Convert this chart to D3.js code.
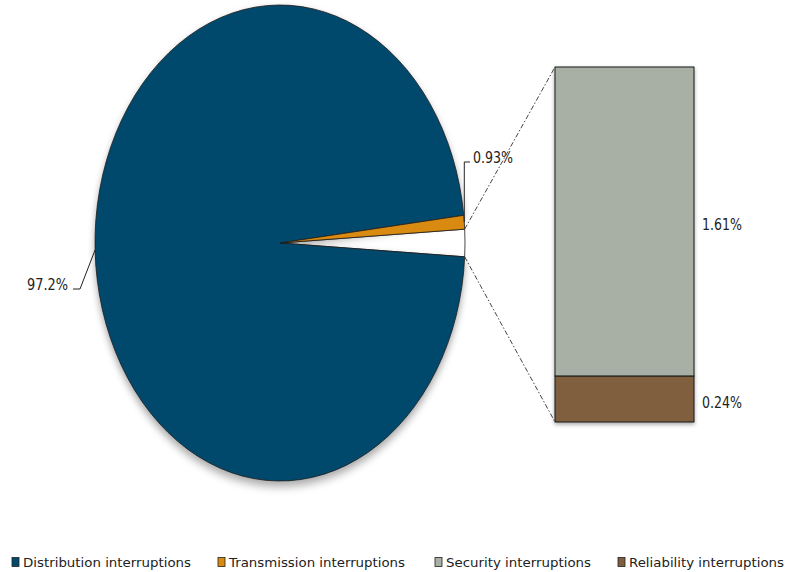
<!DOCTYPE html>
<html>
<head>
<meta charset="utf-8">
<script src="https://cdn.jsdelivr.net/npm/d3@7"></script>
<style>
  html, body { margin: 0; padding: 0; background: #fff; }
  text { font-family: "DejaVu Sans", "Liberation Sans", sans-serif; fill: #222; }
</style>
</head>
<body>
<svg id="chart" width="802" height="572"></svg>
<script>
// ---- data ----
const categories = ["Distribution interruptions", "Transmission interruptions", "Security interruptions", "Reliability interruptions"];
const values = [97.2, 0.93, 1.61, 0.24];
const valueLabels = ["97.2%", "0.93%", "1.61%", "0.24%"];
const colors = ["#034a6d", "#d98a10", "#a8b0a5", "#7f5e3e"];

// ---- layout ----
const svg = d3.select("#chart");
const cx = 280, cy = 243, rx = 185, ry = 238;
const R = 100; // unit radius, scaled to ellipse

const otherValue = values[2] + values[3];
const total = values[0] + values[1] + otherValue;
const otherAngle = otherValue / total * 2 * Math.PI;

// pie: other (white gap) centered at 3 o'clock, then distribution, then transmission (clockwise)
const pieData = [
  { key: "other", value: otherValue, fill: "#ffffff" },
  { key: "dist", value: values[0], fill: colors[0] },
  { key: "trans", value: values[1], fill: colors[1] }
];
const startA = Math.PI / 2 - otherAngle / 2;
const pie = d3.pie().value(d => d.value).sort(null)
  .startAngle(startA).endAngle(startA + 2 * Math.PI);
const arcs = pie(pieData);
const arc = d3.arc().innerRadius(0).outerRadius(R);

const defs = svg.append("defs");
const f = defs.append("filter").attr("id", "sh").attr("x", "-10%").attr("y", "-10%").attr("width", "120%").attr("height", "120%");
f.append("feGaussianBlur").attr("in", "SourceAlpha").attr("stdDeviation", 2);
f.append("feOffset").attr("dx", 0).attr("dy", 2).attr("result", "b");
f.append("feComponentTransfer").append("feFuncA").attr("type", "linear").attr("slope", 0.35);
const fm = f.append("feMerge");
fm.append("feMergeNode");
fm.append("feMergeNode").attr("in", "SourceGraphic");

const pg = svg.append("g")
  .attr("transform", `translate(${cx},${cy}) scale(${rx / R},${ry / R})`);
pg.selectAll("path").data(arcs).join("path")
  .attr("d", arc)
  .attr("fill", d => d.data.fill)
  .attr("stroke", "#1a1a1a")
  .attr("stroke-width", 0.8)
  .attr("vector-effect", "non-scaling-stroke")
  .attr("filter", d => d.data.key === "dist" ? "url(#sh)" : null);

function pt(a, k = 1) {
  return [cx + rx * k * Math.sin(a), cy - ry * k * Math.cos(a)];
}

// ---- bar (pie of bar) ----
const barX0 = 555, barX1 = 694, barTop = 67, barBottom = 422;
const yB = d3.scaleLinear().domain([0, otherValue]).range([barBottom, barTop]);
const stack = [
  { v0: 0, v1: values[3], fill: colors[3], label: valueLabels[3] },
  { v0: values[3], v1: values[3] + values[2], fill: colors[2], label: valueLabels[2] }
];
const bg = svg.append("g").attr("filter", "url(#sh)");
bg.selectAll("rect").data(stack).join("rect")
  .attr("x", barX0).attr("width", barX1 - barX0)
  .attr("y", d => yB(d.v1)).attr("height", d => yB(d.v0) - yB(d.v1))
  .attr("fill", d => d.fill)
  .attr("stroke", "#1a1a1a").attr("stroke-width", 1);

svg.selectAll("text.barlab").data(stack).join("text")
  .attr("class", "barlab")
  .attr("x", barX1 + 8)
  .attr("y", d => (yB(d.v0) + yB(d.v1)) / 2 + 3)
  .attr("dy", "0.36em")
  .attr("font-size", 16.5)
  .attr("textLength", 40).attr("lengthAdjust", "spacingAndGlyphs")
  .text(d => d.label);

// ---- connectors ----
const otherArc = arcs[0];
const pA = pt(otherArc.startAngle), pB = pt(otherArc.endAngle);
const conn = svg.append("g").attr("stroke", "#444").attr("stroke-width", 1)
  .attr("stroke-dasharray", "5,2,1.5,2").attr("fill", "none");
conn.append("line").attr("x1", pA[0]).attr("y1", pA[1]).attr("x2", barX0).attr("y2", barTop);
conn.append("line").attr("x1", pB[0]).attr("y1", pB[1]).attr("x2", barX0).attr("y2", barBottom);

// ---- pie labels with leaders ----
const distArc = arcs[1], transArc = arcs[2];
const dMid = (distArc.startAngle + distArc.endAngle) / 2;
const tMid = (transArc.startAngle + transArc.endAngle) / 2;
const dp = pt(dMid), tp = pt(tMid);

const lead = svg.append("g").attr("stroke", "#222").attr("stroke-width", 1).attr("fill", "none");
lead.append("polyline").attr("points", `${dp[0]},${dp[1]} ${80},${289} ${73},${289}`);
lead.append("polyline").attr("points", `${tp[0]},${tp[1]} ${tp[0]},${162} ${470},${162}`);

svg.append("text").attr("x", 68).attr("y", 284).attr("dy", "0.36em")
  .attr("text-anchor", "end").attr("font-size", 16)
  .attr("textLength", 41).attr("lengthAdjust", "spacingAndGlyphs")
  .text(valueLabels[0]);
svg.append("text").attr("x", 473).attr("y", 157).attr("dy", "0.36em")
  .attr("font-size", 16)
  .attr("textLength", 40).attr("lengthAdjust", "spacingAndGlyphs")
  .text(valueLabels[1]);

// ---- legend ----
const legendX = [12, 218, 435, 618];
const legendW = [168, 176, 145, 155];
const lg = svg.append("g");
const items = lg.selectAll("g").data(categories).join("g")
  .attr("transform", (d, i) => `translate(${legendX[i]},562)`);
items.append("rect").attr("x", 0).attr("y", -4.5).attr("width", 7).attr("height", 9)
  .attr("fill", (d, i) => colors[i]).attr("stroke", "#222").attr("stroke-width", 0.8);
items.append("text").attr("x", 11).attr("y", 0).attr("dy", "0.35em")
  .attr("font-size", 13)
  .attr("textLength", (d, i) => legendW[i]).attr("lengthAdjust", "spacingAndGlyphs")
  .text(d => d);
</script>
</body>
</html>
